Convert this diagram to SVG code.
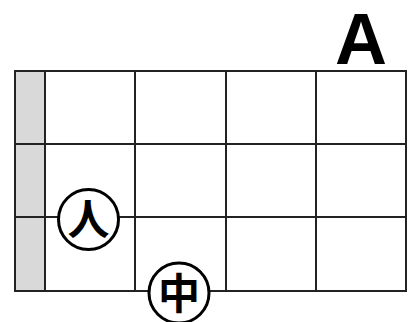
<svg xmlns="http://www.w3.org/2000/svg" width="414" height="322" viewBox="0 0 414 322">
<style>
.g{stroke:#222;stroke-width:2;fill:none}
.c{fill:#fff;stroke:#000;stroke-width:3}
.k{font-family:"Noto Sans CJK JP","Noto Sans CJK SC",sans-serif;font-weight:bold;font-size:42px;text-anchor:middle;fill:#000}
</style>
<rect width="414" height="322" fill="#fff"/>
<g id="title"><text x="361" y="64" font-family="Liberation Sans, Arial, sans-serif" font-weight="bold" font-size="72" text-anchor="middle">A</text></g>
<g id="grid">
<rect x="15" y="71" width="30" height="220" fill="#d9d9d9"/>
<rect x="15" y="71" width="391" height="220" class="g"/>
<path class="g" d="M45 71V291M135 71V291M226 71V291M316 71V291M15 144H406M15 217H406"/>
</g>
<g id="finger-index"><circle cx="88.5" cy="219.5" r="30" class="c"/><text x="88.5" y="235" class="k">人</text></g>
<g id="finger-middle"><circle cx="179" cy="293" r="30" class="c"/><text x="179" y="308.5" class="k">中</text></g>
</svg>
